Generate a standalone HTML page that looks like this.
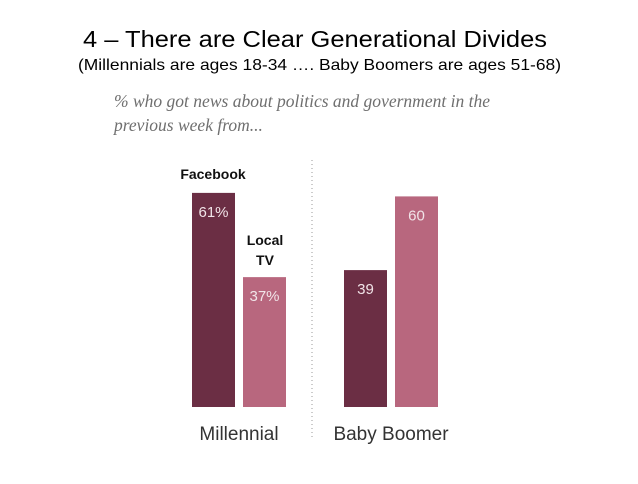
<!DOCTYPE html>
<html><head><meta charset="utf-8"><style>
body{margin:0;width:638px;height:479px;background:#fff;overflow:hidden;font-family:"Liberation Sans",sans-serif}
</style></head><body>
<svg width="638" height="479">
<text x="83" y="47" textLength="464" lengthAdjust="spacingAndGlyphs" font-size="23" fill="#000">4 – There are Clear Generational Divides</text>
<text x="78" y="70" textLength="483" lengthAdjust="spacingAndGlyphs" font-size="16" fill="#000">(Millennials are ages 18-34 …. Baby Boomers are ages 51-68)</text>
<text x="114" y="107" textLength="376" lengthAdjust="spacingAndGlyphs" font-family="Liberation Serif,serif" font-style="italic" font-size="17.5" fill="#6f6f6f">% who got news about politics and government in the</text>
<text x="114" y="131" font-family="Liberation Serif,serif" font-style="italic" font-size="17.5" fill="#6f6f6f">previous week from...</text>
<line x1="312" y1="160" x2="312" y2="440" stroke="#999" stroke-dasharray="1,3"/>
<g id="bars"></g>
<text x="213" y="179" text-anchor="middle" font-weight="bold" font-size="14" fill="#111">Facebook</text>
<text x="265" y="245" text-anchor="middle" font-weight="bold" font-size="14" fill="#111">Local</text>
<text x="265" y="265" text-anchor="middle" font-weight="bold" font-size="14" fill="#111">TV</text>
</svg>
<script>
const groups=["Millennial","Baby Boomer"];
const facebook=[61,39];
const localTV=[37,60];
const labelsFB=["61%","39"];
const labelsTV=["37%","60"];
const base=407, k=3.51, gx=[192,344], w=43, gap=51;
const colors=["#6b2e44","#b8677e"];
const g=document.getElementById('bars');
const ns="http://www.w3.org/2000/svg";
const y=v=>base-v*k;
groups.forEach((name,i)=>{
 [[facebook,labelsFB],[localTV,labelsTV]].forEach((s,j)=>{
  const v=s[0][i], x=gx[i]+j*gap;
  const r=document.createElementNS(ns,'rect');
  r.setAttribute('x',x);r.setAttribute('y',y(v));r.setAttribute('width',w);r.setAttribute('height',base-y(v));r.setAttribute('fill',colors[j]);
  
  
  g.appendChild(r);
  const t=document.createElementNS(ns,'text');
  t.setAttribute('x',x+w/2);t.setAttribute('y',y(v)+24);t.setAttribute('text-anchor','middle');t.setAttribute('font-size','15');t.setAttribute('fill','#f1e4e8');
  t.textContent=s[1][i];
  
  
  g.appendChild(t);
 });
 const c=document.createElementNS(ns,'text');
 c.setAttribute('x',gx[i]+(gap+w)/2);c.setAttribute('y',440);c.setAttribute('text-anchor','middle');c.setAttribute('font-size','19');c.setAttribute('fill','#333');
 c.textContent=name;
 
 
 g.appendChild(c);
});
</script>
</body></html>
